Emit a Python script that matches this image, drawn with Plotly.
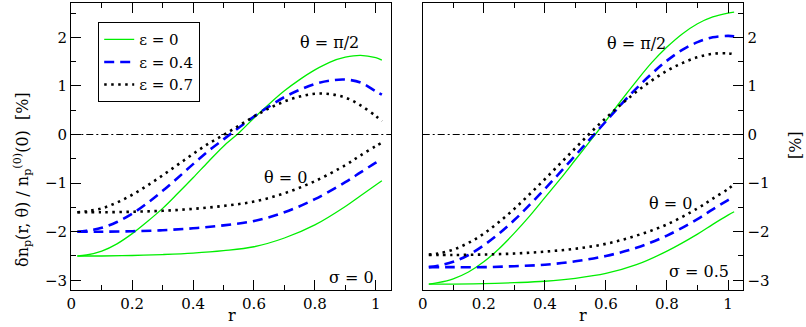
import plotly.graph_objects as go

# ---------------- data ----------------
r_pi2 = [0.02, 0.05, 0.1, 0.15, 0.2, 0.25, 0.3, 0.35, 0.4, 0.45, 0.5, 0.55, 0.6,
         0.65, 0.7, 0.75, 0.8, 0.85, 0.9, 0.95, 1.0, 1.02]
r_th0 = [0.02, 0.1, 0.2, 0.3, 0.4, 0.5, 0.6, 0.7, 0.8, 0.9, 0.95, 1.0, 1.02]

# left panel: sigma = 0, theta = pi/2
L_pi2_e0 = [-2.50, -2.48, -2.40, -2.25, -2.04, -1.79, -1.52, -1.21, -0.89, -0.56, -0.24, 0.03,
            0.34, 0.63, 0.90, 1.13, 1.33, 1.49, 1.59, 1.63, 1.58, 1.53]
L_pi2_e4 = [-2.00, -1.98, -1.92, -1.80, -1.63, -1.41, -1.16, -0.89, -0.61, -0.34, -0.10, 0.14,
            0.37, 0.58, 0.77, 0.92, 1.04, 1.11, 1.13, 1.07, 0.89, 0.82]
L_pi2_e7 = [-1.60, -1.58, -1.52, -1.40, -1.24, -1.05, -0.84, -0.62, -0.40, -0.19, -0.01, 0.18,
            0.37, 0.54, 0.68, 0.78, 0.84, 0.83, 0.76, 0.60, 0.38, 0.27]
# left panel: theta = 0
L_0_e0 = [-2.50, -2.50, -2.49, -2.47, -2.44, -2.39, -2.31, -2.13, -1.86, -1.48, -1.26, -1.04, -0.95]
L_0_e4 = [-2.00, -2.00, -1.99, -1.97, -1.93, -1.87, -1.78, -1.60, -1.33, -0.98, -0.78, -0.58, -0.51]
L_0_e7 = [-1.60, -1.60, -1.59, -1.57, -1.53, -1.47, -1.38, -1.21, -0.96, -0.63, -0.43, -0.24, -0.17]

# right panel: sigma = 0.5, theta = pi/2
R_pi2_e0 = [-3.08, -3.05, -2.97, -2.83, -2.62, -2.35, -2.03, -1.68, -1.30, -0.92, -0.52, -0.12,
            0.28, 0.70, 1.10, 1.48, 1.80, 2.07, 2.28, 2.42, 2.50, 2.52]
R_pi2_e4 = [-2.73, -2.70, -2.62, -2.48, -2.28, -2.04, -1.76, -1.45, -1.12, -0.78, -0.43, -0.08,
            0.27, 0.62, 0.95, 1.25, 1.52, 1.74, 1.90, 2.00, 2.03, 2.02]
R_pi2_e7 = [-2.47, -2.45, -2.37, -2.23, -2.04, -1.80, -1.53, -1.23, -0.92, -0.60, -0.28, 0.04,
            0.34, 0.62, 0.88, 1.11, 1.31, 1.47, 1.59, 1.66, 1.67, 1.65]
# right panel: theta = 0
R_0_e0 = [-3.08, -3.08, -3.07, -3.05, -3.02, -2.96, -2.86, -2.68, -2.40, -2.05, -1.85, -1.66, -1.59]
R_0_e4 = [-2.73, -2.73, -2.73, -2.71, -2.68, -2.61, -2.50, -2.33, -2.08, -1.74, -1.54, -1.35, -1.28]
R_0_e7 = [-2.48, -2.48, -2.47, -2.45, -2.41, -2.35, -2.25, -2.08, -1.85, -1.52, -1.32, -1.12, -1.02]

legend_labels = ["ε = 0", "ε = 0.4", "ε = 0.7"]
x_ticks = [0, 0.2, 0.4, 0.6, 0.8, 1]
x_tick_text = ["0", "0.2", "0.4", "0.6", "0.8", "1"]
y_ticks = [-3, -2, -1, 0, 1, 2]

FONT = "DejaVu Serif"
styles = [
    dict(color="#00ee00", width=1.3, dash="solid"),
    dict(color="#0000ff", width=2.6, dash="10px,6px"),
    dict(color="#000000", width=2.6, dash="2.5px,4.5px"),
]

fig = go.Figure()

left_sets = [(L_pi2_e0, L_0_e0), (L_pi2_e4, L_0_e4), (L_pi2_e7, L_0_e7)]
right_sets = [(R_pi2_e0, R_0_e0), (R_pi2_e4, R_0_e4), (R_pi2_e7, R_0_e7)]

for i, (a, b) in enumerate(left_sets):
    fig.add_trace(go.Scatter(x=r_pi2, y=a, mode="lines", line=dict(**styles[i], shape="spline"),
                             name=legend_labels[i], legendgroup=str(i), showlegend=True,
                             xaxis="x", yaxis="y"))
    fig.add_trace(go.Scatter(x=r_th0, y=b, mode="lines", line=dict(**styles[i], shape="spline"),
                             name=legend_labels[i], legendgroup=str(i), showlegend=False,
                             xaxis="x", yaxis="y"))
for i, (a, b) in enumerate(right_sets):
    fig.add_trace(go.Scatter(x=r_pi2, y=a, mode="lines", line=dict(**styles[i], shape="spline"),
                             name=legend_labels[i], showlegend=False, xaxis="x2", yaxis="y2"))
    fig.add_trace(go.Scatter(x=r_th0, y=b, mode="lines", line=dict(**styles[i], shape="spline"),
                             name=legend_labels[i], showlegend=False, xaxis="x2", yaxis="y2"))

# zero reference lines
for xr, yr in (("x", "y"), ("x2", "y2")):
    fig.add_shape(type="line", xref=xr + " domain", yref=yr, x0=0, x1=1, y0=0, y1=0,
                  line=dict(color="black", width=1, dash="7px,3px,2px,3px"))

W, H = 806, 327
def px_x(p):
    return p / W
def px_y(p):
    return 1 - p / H

tfont = dict(family=FONT, size=15, color="black")
afont = dict(family=FONT, size=16, color="black")
axis_common = dict(
    range=[0, 1.05], tickvals=x_ticks, ticktext=x_tick_text, ticks="inside", ticklen=10,
    tickwidth=1.2, tickcolor="black", showline=True, linecolor="black", linewidth=1.3,
    mirror="ticks", showgrid=False, zeroline=False,
    minor=dict(dtick=0.1, ticks="inside", ticklen=5, tickwidth=1.2, tickcolor="black", showgrid=False),
    tickfont=tfont, automargin=False,
)
yaxis_common = dict(
    range=[-3.2, 2.7], tickvals=y_ticks, ticks="inside", ticklen=10, tickwidth=1.2,
    tickcolor="black", showline=True, linecolor="black", linewidth=1.3, mirror=True,
    showgrid=False, zeroline=False,
    minor=dict(dtick=0.5, ticks="inside", ticklen=5, tickwidth=1.2, tickcolor="black", showgrid=False),
    tickfont=tfont, automargin=False,
)

fig.update_layout(
    width=W, height=H,
    margin=dict(l=0, r=0, t=0, b=0),
    paper_bgcolor="white", plot_bgcolor="white",
    font=tfont,
    xaxis=dict(domain=[px_x(71.3), px_x(391)], anchor="y", **axis_common),
    xaxis2=dict(domain=[px_x(422.7), px_x(743.3)], anchor="y2", **axis_common),
    yaxis=dict(domain=[px_y(290), px_y(3.3)], anchor="x", side="left", **yaxis_common),
    yaxis2=dict(domain=[px_y(290), px_y(3.3)], anchor="x2", side="right", **yaxis_common),
    showlegend=True,
    legend=dict(x=px_x(98), y=px_y(22), xanchor="left", yanchor="top",
                bordercolor="black", borderwidth=1.2, bgcolor="white",
                font=dict(family=FONT, size=15, color="black"),
                itemwidth=30, tracegroupgap=0),
)

ann = [
    ("θ = π/2", 329, 42), ("θ = 0", 285, 177), ("σ = 0", 351, 277),
    ("θ = π/2", 636, 43), ("θ = 0", 670, 203), ("σ = 0.5", 699, 271),
]
for t, x, y in ann:
    fig.add_annotation(text=t, x=px_x(x), y=px_y(y), xref="paper", yref="paper",
                       showarrow=False, font=afont, xanchor="center", yanchor="middle")
for x in (232, 583):
    fig.add_annotation(text="r", x=px_x(x), y=0, xref="paper", yref="paper",
                       showarrow=False, font=afont, xanchor="center", yanchor="bottom")

fig.add_annotation(text="δn<sub>p</sub>(r, θ) / n<sub>p</sub><sup>(0)</sup>(0)  [%]",
                   x=px_x(22), y=px_y(180), xref="paper", yref="paper", textangle=-90,
                   showarrow=False, font=afont, xanchor="center", yanchor="middle")
fig.add_annotation(text="[%]", x=px_x(796), y=px_y(145), xref="paper", yref="paper",
                   textangle=-90, showarrow=False, font=afont,
                   xanchor="center", yanchor="middle")

fig.write_html("out.html", config={"displayModeBar": False},
               post_script="document.body.style.margin='0';")
